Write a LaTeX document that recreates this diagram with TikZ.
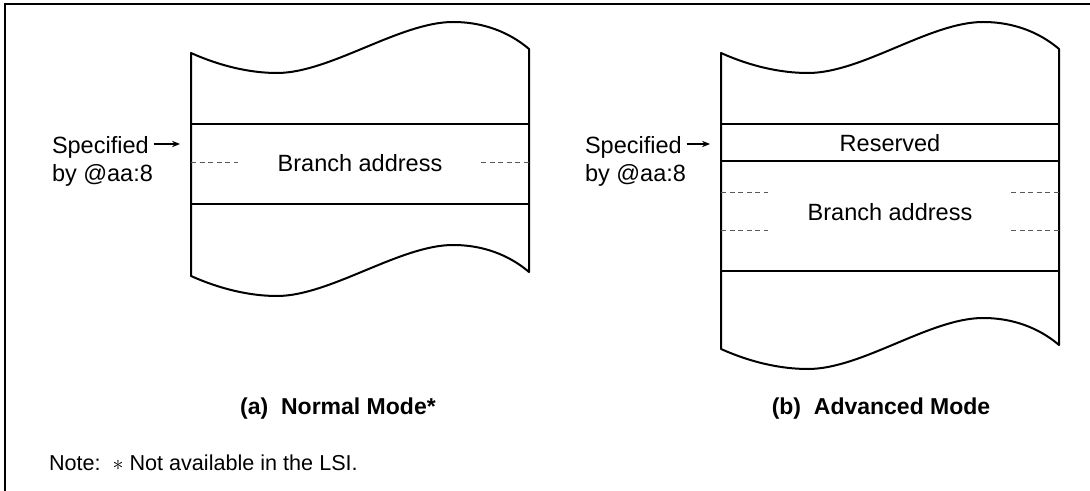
\documentclass[tikz,border=0pt]{standalone}
\usepackage{fontspec}
\setmainfont{Liberation Sans}
\usetikzlibrary{arrows.meta}
\begin{document}
\begin{tikzpicture}[x=0.5pt,y=-0.5pt,
  every node/.style={inner sep=0pt,outer sep=0pt,font=\fontsize{11.75}{14}\selectfont},
  tape/.style={line width=1pt,line join=round},
  sep/.style={line width=1pt},
  dsh/.style={line width=0.5pt,gray!70!black,dash pattern=on 2.5pt off 1.8pt},
  frame/.style={line width=0.7pt},
  captext/.style={font=\fontsize{11.5}{13}\selectfont\bfseries,anchor=base},
  pointer/.style={line width=0.6pt,-{Stealth[length=4pt,width=3.2pt]}}]
\useasboundingbox (0,0) rectangle (1090,491);
% frame
\coordinate (fTL) at (5,4);
\coordinate (fTR) at (1090,4);
\coordinate (fBL) at (5,491);
\draw[frame] (fBL) -- (fTL) -- (fTR);

% ---------- (a) Normal mode ----------
\draw[tape] (191,53) .. controls (220,66) and (250,73) .. (277,73)
  .. controls (330,73) and (400,22) .. (453,22)
  .. controls (490,22) and (515,37) .. (529,49)
  -- (529,272)
  .. controls (515,260) and (490,245) .. (453,245)
  .. controls (400,245) and (330,296) .. (277,296)
  .. controls (250,296) and (220,289) .. (191,276) -- cycle;
\coordinate (a1L) at (191,124); \coordinate (a1R) at (529,124);
\coordinate (a2L) at (191,204); \coordinate (a2R) at (529,204);
\draw[sep] (a1L) -- (a1R);
\draw[sep] (a2L) -- (a2R);
\coordinate (adL1) at (191,163); \coordinate (adL2) at (238,163);
\coordinate (adR1) at (481,163); \coordinate (adR2) at (529,163);
\draw[dsh] (adL1) -- (adL2);
\draw[dsh] (adR1) -- (adR2);
\node (abr) at (360,163) {Branch address};
\node[anchor=base west] (aspec) at (52,154) {Specified};
\node[anchor=base west] (aby) at (52,182) {by @aa:8};
\coordinate (aarr) at (180,144);
\draw[pointer] ([xshift=2.5pt]aspec.east |- aarr) -- (aarr);
\node[captext] (acap) at (338,414) {(a)\ \ Normal Mode*};

% ---------- (b) Advanced mode ----------
\draw[tape] (721,53) .. controls (750,66) and (780,73) .. (808,73)
  .. controls (862,73) and (930,22) .. (983,22)
  .. controls (1020,22) and (1045,37) .. (1059,49)
  -- (1059,345)
  .. controls (1045,333) and (1020,318) .. (983,318)
  .. controls (930,318) and (862,369) .. (808,369)
  .. controls (780,369) and (750,362) .. (721,349) -- cycle;
\coordinate (b1L) at (721,124); \coordinate (b1R) at (1059,124);
\coordinate (b2L) at (721,161); \coordinate (b2R) at (1059,161);
\coordinate (b3L) at (721,271); \coordinate (b3R) at (1059,271);
\draw[sep] (b1L) -- (b1R);
\draw[sep] (b2L) -- (b2R);
\draw[sep] (b3L) -- (b3R);
\coordinate (bd1L1) at (721,193); \coordinate (bd1L2) at (768,193);
\coordinate (bd1R1) at (1011,193); \coordinate (bd1R2) at (1059,193);
\coordinate (bd2L1) at (721,231); \coordinate (bd2L2) at (768,231);
\coordinate (bd2R1) at (1011,231); \coordinate (bd2R2) at (1059,231);
\draw[dsh] (bd1L1) -- (bd1L2);
\draw[dsh] (bd1R1) -- (bd1R2);
\draw[dsh] (bd2L1) -- (bd2L2);
\draw[dsh] (bd2R1) -- (bd2R2);
\node (bres) at (890,143) {Reserved};
\node (bbr) at (890,212) {Branch address};
\node[anchor=base west] (bspec) at (585,154) {Specified};
\node[anchor=base west] (bby) at (585,182) {by @aa:8};
\coordinate (barr) at (710,144);
\draw[pointer] ([xshift=2.5pt]bspec.east |- barr) -- (barr);
\node[captext] (bcap) at (881,414) {(b)\ \ Advanced Mode};

% note
\node[anchor=base west,font=\fontsize{10.8}{12}\selectfont] (note) at (49,470) {Note:\ \ $\ast$ Not available in the LSI.};
\end{tikzpicture}
\end{document}
